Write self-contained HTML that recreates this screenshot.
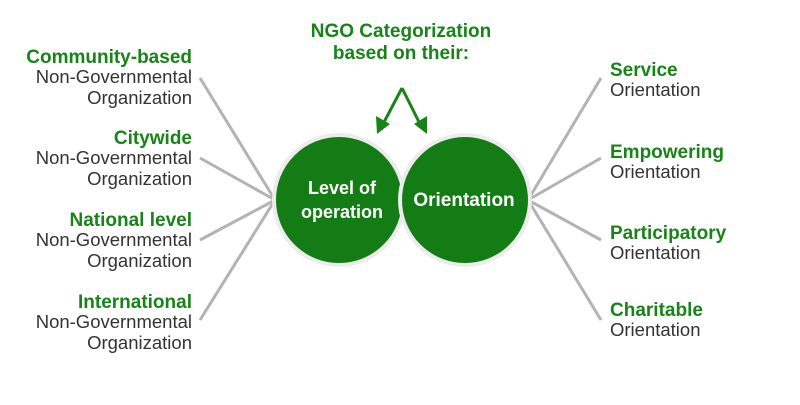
<!DOCTYPE html>
<html><head><style>
html,body{margin:0;padding:0;background:#fff;}
svg text{font-family:"Liberation Sans",sans-serif;}
.g{fill:#188418;font-weight:bold;font-size:19px;}
.k{fill:#333;font-size:18.5px;}
</style></head><body>
<svg width="800" height="400" viewBox="0 0 800 400" xmlns="http://www.w3.org/2000/svg">
<g stroke="#b3b3b3" stroke-width="3" fill="none">
<path d="M200 78 L275 200 M200 158 L275 200 M200 240 L275 200 M200 320 L275 200"/>
<path d="M601 78 L528 200 M601 158 L528 200 M601 240 L528 200 M601 320 L528 200"/>
</g>
<circle cx="339" cy="200" r="65" fill="#137c14" stroke="#ececec" stroke-width="4"/>
<circle cx="465" cy="200" r="65" fill="#137c14" stroke="#ececec" stroke-width="4"/>
<g fill="#fff" font-weight="bold" text-anchor="middle">
<text x="342" y="194" font-size="18">Level of</text>
<text x="342" y="218" font-size="18">operation</text>
<text x="464" y="206" font-size="19">Orientation</text>
</g>
<g text-anchor="middle">
<text x="401" y="37" class="g">NGO Categorization</text>
<text x="401" y="59" class="g">based on their:</text>
</g>
<g stroke="#188418" stroke-width="3" fill="none">
<path d="M402 88 L382 126 M402 88 L421 126"/>
</g>
<path d="M377 134 L376 116 L390 124 Z M427 134 L414 124 L427 116 Z" fill="#188418"/>
<g text-anchor="end">
<text x="192" y="63" class="g">Community-based</text>
<text x="192" y="83" class="k">Non-Governmental</text>
<text x="192" y="104" class="k">Organization</text>
<text x="192" y="144" class="g">Citywide</text>
<text x="192" y="164" class="k">Non-Governmental</text>
<text x="192" y="185" class="k">Organization</text>
<text x="192" y="226" class="g">National level</text>
<text x="192" y="246" class="k">Non-Governmental</text>
<text x="192" y="267" class="k">Organization</text>
<text x="192" y="308" class="g">International</text>
<text x="192" y="328" class="k">Non-Governmental</text>
<text x="192" y="349" class="k">Organization</text>
</g>
<g>
<text x="610" y="76" class="g">Service</text>
<text x="610" y="96" class="k">Orientation</text>
<text x="610" y="158" class="g">Empowering</text>
<text x="610" y="178" class="k">Orientation</text>
<text x="610" y="239" class="g">Participatory</text>
<text x="610" y="259" class="k">Orientation</text>
<text x="610" y="316" class="g">Charitable</text>
<text x="610" y="336" class="k">Orientation</text>
</g>
</svg>
</body></html>
